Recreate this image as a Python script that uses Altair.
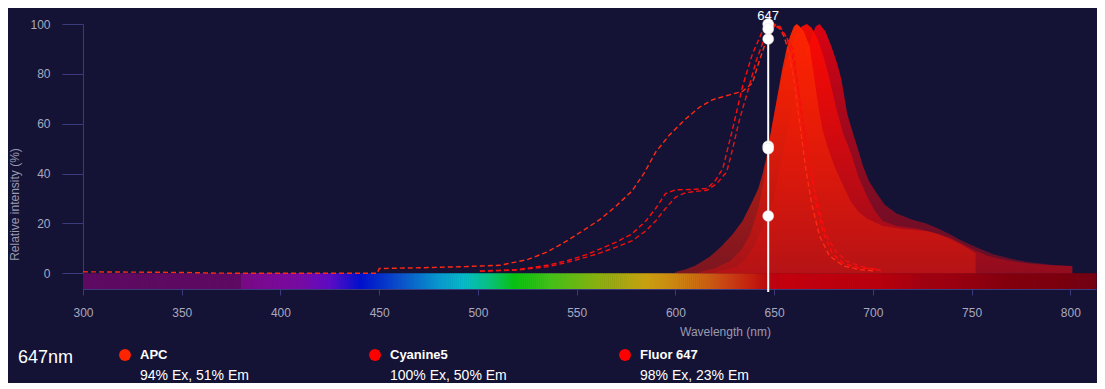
import altair as alt
import numpy as np
import pandas as pd

BG = "#141336"
AXIS = "#3b3a7c"
LABEL = "#a9a9bd"
TITLE = "#9a9ab0"
FONT = "Liberation Sans"

selected_nm = 647

names = ["APC", "Cyanine5", "Fluor 647"]
dot_colors = ["#ff2400", "#ff0000", "#ff0000"]
ex_line_colors = ["#ff2a14", "#ff0c0c", "#f01010"]
ex_at_sel = [94, 100, 98]
em_at_sel = [51, 50, 23]

# ---- excitation spectra (dashed) ----
apc_ex_wl = [300, 320, 340, 352, 365, 380, 449, 450, 470, 490, 511, 525, 535, 545, 553, 562, 570, 578, 584, 590,
             597, 605, 612, 619, 627, 634, 639, 642, 645, 647, 649, 651, 653, 655, 657, 660, 663, 666, 669, 673,
             678, 685, 693, 700]
apc_ex_val = [0.6, 0.5, 0.4, 0.3, 0.1, 0, 0, 1.9, 2.2, 2.6, 3.2, 5.5, 8.5, 13, 17, 21.7, 27, 33, 40, 48.6,
              55.5, 61.8, 66.5, 69.7, 71.5, 73, 76.3, 84, 91, 94, 98, 100, 98, 95, 90, 78, 60, 42, 28, 15,
              7, 3, 1.5, 1]

cy5_ex_wl = [501, 520, 535, 545, 555, 562, 570, 578, 585, 590, 595, 600, 608, 616, 620, 624, 629, 634, 639, 644,
             647, 650, 653, 656, 659.5, 662, 664, 666, 668, 671, 675, 679.5, 685, 693, 702]
cy5_ex_val = [0.9, 1.5, 3.2, 5, 7.5, 9.8, 12.5, 15.8, 21, 26, 32, 33.5, 33.6, 34, 37, 42, 58, 75, 88, 97,
              100, 99.5, 98, 95, 90, 76, 63, 55, 44, 29, 16, 8, 4, 2.2, 1.8]

f647_ex_wl = [501, 520, 535, 545, 555, 562, 570, 578, 585, 590, 595, 600, 605, 610, 616, 621, 626, 629, 632.5, 637,
              641, 645, 647, 650, 653, 656, 659, 662, 664, 666, 669, 672, 676, 681, 686.5, 693, 700, 704]
f647_ex_val = [0.8, 1.3, 2.6, 4.3, 6.5, 8.2, 10.5, 13, 17, 21, 26, 30.5, 32.3, 32.8, 33.3, 36, 40.7, 50, 61.8, 74,
               85.5, 94, 98, 100, 99, 95, 88, 75, 64, 53, 40, 28, 16, 9, 5, 3, 1.6, 1.2]

# ---- emission spectra (filled) ----
apc_em_wl = [600, 605, 610, 617, 623, 629, 634, 639, 642, 644, 646, 647, 649, 651, 654, 656, 658, 660, 661.5, 663,
             665, 668, 670, 673, 675, 678, 681, 685, 689, 693, 697, 705, 715, 727, 733, 739, 745, 750, 752]
apc_em_val = [0.5, 1.5, 3, 6.4, 10.5, 15.7, 21, 28.9, 34, 39.4, 46, 51, 59, 68, 81.5, 89, 95, 99, 100, 99,
              97, 91, 80, 64, 56, 48.6, 42, 35, 28.5, 24.5, 22, 19, 17.8, 17, 15.8, 13.8, 11.5, 9, 8]

cy5_em_wl = [612, 620, 628, 634, 638, 642, 645, 647, 649, 652, 655, 658, 661, 664, 666.5, 669, 672, 675, 678, 681.5,
             685, 689, 693, 697, 701, 705, 712, 722, 730, 739, 746, 752, 758, 764, 772, 780, 790, 801]
cy5_em_val = [0.5, 2, 5, 10, 16, 26, 38, 50, 60, 72, 82, 90, 96, 99, 100, 98.5, 94, 87, 78, 66,
              56, 48, 38, 31, 25, 21, 19, 18, 16.5, 14.3, 11.5, 9, 7, 5.8, 4.6, 3.8, 3.2, 2.9]

f647_em_wl = [620, 626, 631, 636, 640, 642.6, 645, 647, 650, 653, 656, 659, 662, 665, 668, 671, 673, 676, 679, 682,
              684, 687, 690, 692, 695, 698, 702, 706, 712, 720, 727, 733, 739, 744, 749, 755, 761, 770, 778, 790, 801]
f647_em_val = [0.5, 1.5, 2.5, 6, 11, 16, 20, 23, 31, 42, 54, 66, 77, 86, 93, 99, 100, 97, 91, 84,
               78, 64, 56, 51, 43, 37, 32, 27.5, 24, 21.5, 20, 18, 15.7, 13.5, 11.7, 9.5, 7.6, 5.8, 4.5, 3.4, 2.8]

# ---- visible spectrum colour bar ----
bar_stops_nm = [300, 379, 380, 410, 425, 440, 460, 480, 492, 505, 518, 535, 560, 585, 605, 625, 645, 650, 700, 740,
                770, 813]
bar_stops_col = ["#5e0a62", "#5e0a62", "#780a84", "#7a0aa6", "#5a0cc4", "#0010cc", "#0a50c8", "#0898cc",
                 "#04bccc", "#08c080", "#08c010", "#40c018", "#88b010", "#c8a010", "#cc7a10", "#c84414",
                 "#c00c0c", "#c4000e", "#b8000e", "#9a0010", "#82000e", "#760010"]

x_ticks = [300, 350, 400, 450, 500, 550, 600, 650, 700, 750, 800]
y_ticks = [0, 20, 40, 60, 80, 100]
x_domain = [300, 813]
y_domain = [-6.3, 100]
marker_span = [-7.5, 100]

# ---------------- build tables ----------------
ex_df = pd.concat([
    pd.DataFrame({"wl": apc_ex_wl, "val": apc_ex_val, "name": "APC"}),
    pd.DataFrame({"wl": cy5_ex_wl, "val": cy5_ex_val, "name": "Cyanine5"}),
    pd.DataFrame({"wl": f647_ex_wl, "val": f647_ex_val, "name": "Fluor 647"}),
])
em_dfs = {
    "APC": pd.DataFrame({"wl": apc_em_wl, "val": apc_em_val}),
    "Cyanine5": pd.DataFrame({"wl": cy5_em_wl, "val": cy5_em_val}),
    "Fluor 647": pd.DataFrame({"wl": f647_em_wl, "val": f647_em_val}),
}
bar_wl = np.arange(x_domain[0], x_domain[1])
bar_df = pd.DataFrame({"wl": bar_wl, "wl2": bar_wl + 1.3, "lo": 0.0, "hi": y_domain[0]})
rule_df = pd.DataFrame({"wl": [selected_nm], "lo": [marker_span[0]], "hi": [marker_span[1]],
                        "label": [str(selected_nm)], "top": [100]})
dots_df = pd.DataFrame({"wl": [selected_nm] * 6, "val": ex_at_sel + em_at_sel})

xs = alt.Scale(domain=x_domain, nice=False, zero=False)
ys = alt.Scale(domain=y_domain, nice=False, zero=False)
xaxis = alt.Axis(values=x_ticks, grid=False, domainColor=AXIS, tickColor=AXIS, tickSize=6,
                 labelColor=LABEL, labelFontSize=12, labelPadding=12, labelFlush=False,
                 title="Wavelength (nm)",
                 titleColor=TITLE, titleFontSize=12, titleFontWeight="normal", titlePadding=8,
                 titleX=642, titleAlign="center")
yaxis = alt.Axis(values=y_ticks, grid=False, domainColor=AXIS, tickColor=AXIS, tickSize=21,
                 labelColor=LABEL, labelFontSize=12, labelPadding=12, labelFlush=False,
                 title="Relative intensity (%)",
                 titleColor=TITLE, titleFontSize=12, titleFontWeight="normal", titleX=-69, titleY=180,
                 titleAngle=270, titleBaseline="middle", titleAlign="center")


def X(field="wl"):
    return alt.X(f"{field}:Q", scale=xs, axis=xaxis)


def Y(field="val"):
    return alt.Y(f"{field}:Q", scale=ys, axis=yaxis)


bar = alt.Chart(bar_df).mark_rect().encode(
    x=X("wl"), x2="wl2:Q", y=Y("lo"), y2="hi:Q",
    color=alt.Color("wl:Q", scale=alt.Scale(domain=bar_stops_nm, range=bar_stops_col, interpolate="rgb"),
                    legend=None),
)


def grad(top, bottom):
    return alt.LinearGradient(gradient="linear",
                              stops=[alt.GradientStop(color=top, offset=0),
                                     alt.GradientStop(color=bottom, offset=1)],
                              x1=1, x2=1, y1=0, y2=1)


em_styles = {
    "Fluor 647": ("rgba(236,0,14,0.92)", "rgba(170,12,30,0.5)"),
    "Cyanine5": ("rgba(255,10,0,0.92)", "rgba(196,10,20,0.5)"),
    "APC": ("rgba(255,38,0,0.97)", "rgba(210,24,14,0.55)"),
}
em_layers = [
    alt.Chart(em_dfs[n]).mark_area(color=grad(*em_styles[n])).encode(x=X(), y=Y())
    for n in ["Fluor 647", "Cyanine5", "APC"]
]

ex_lines = alt.Chart(ex_df).mark_line(strokeDash=[5, 3], strokeWidth=1.4).encode(
    x=X(), y=Y(),
    color=alt.Color("name:N", scale=alt.Scale(domain=names, range=ex_line_colors), legend=None),
)

rule = alt.Chart(rule_df).mark_rule(color="white", strokeWidth=2).encode(x=X(), y=Y("lo"), y2="hi:Q")
dots = alt.Chart(dots_df).mark_circle(size=120, color="white", opacity=1,
                                      stroke="#dddddd", strokeWidth=0.5).encode(x=X(), y=Y())
label = alt.Chart(rule_df).mark_text(color="white", fontSize=13, baseline="alphabetic", dy=-4).encode(
    x=X(), y=Y("top"), text="label:N")

main = alt.layer(bar, *em_layers, ex_lines, rule, dots, label).resolve_scale(color="independent").properties(
    width=1013, height=265)

# ---------------- readout row ----------------
leg_df = pd.DataFrame({
    "name": names,
    "color": dot_colors,
    "readout": [f"{e}% Ex, {m}% Em" for e, m in zip(ex_at_sel, em_at_sel)],
})
LX = alt.X("name:N", scale=alt.Scale(type="point", domain=names, padding=0.168), axis=None)
leg_dots = alt.Chart(leg_df).mark_circle(size=140, opacity=1).encode(
    x=LX, y=alt.value(14), color=alt.Color("color:N", scale=None))
leg_names = alt.Chart(leg_df).mark_text(align="left", baseline="middle", dx=15, fontSize=13,
                                        fontWeight="bold", color="white").encode(
    x=LX, y=alt.value(14), text="name:N")
leg_vals = alt.Chart(leg_df).mark_text(align="left", baseline="middle", dx=15, fontSize=14,
                                       color="white").encode(
    x=LX, y=alt.value(35), text="readout:N")
nm_df = pd.DataFrame({"t": [f"{selected_nm}nm"]})
nm_text = alt.Chart(nm_df).mark_text(align="left", baseline="middle", fontSize=18, color="white").encode(
    x=alt.value(-65), y=alt.value(17), text="t:N")

bottom = alt.layer(leg_dots, leg_names, leg_vals, nm_text).properties(width=584, height=41)

chart = alt.vconcat(main, bottom, spacing=4).properties(
    background=BG, padding={"left": 0, "top": 2, "right": 0, "bottom": 0}
).configure(font=FONT).configure_view(strokeWidth=0)

chart.save("out.html", embed_options={"renderer": "svg", "actions": False})
